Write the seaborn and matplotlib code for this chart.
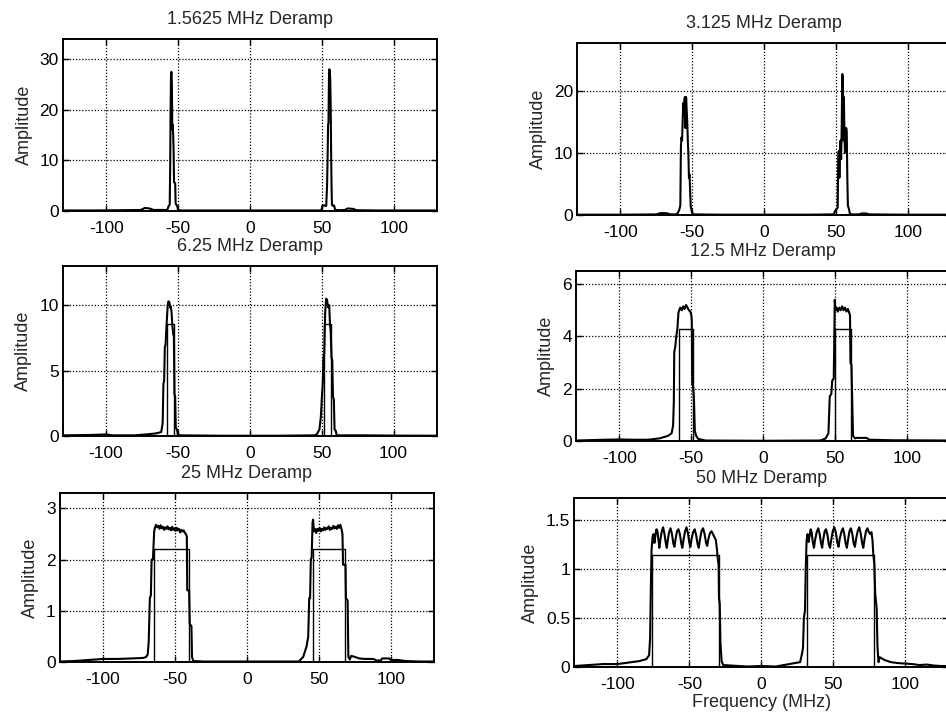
import matplotlib
matplotlib.use("Agg")
import matplotlib.pyplot as plt
from matplotlib.ticker import FuncFormatter
import seaborn as sns

# panel titles (left column top->bottom, then right column)
titles = ["1.5625 MHz Deramp", "3.125 MHz Deramp", "6.25 MHz Deramp",
          "12.5 MHz Deramp", "25 MHz Deramp", "50 MHz Deramp"]

f_1 = [-130, -110, -90, -76, -73, -70, -67, -60, -57.5, -56.5, -55.8, -55.5, -55.2, -54.9, -54.6,
       -54.3, -54.0, -53.7, -53.4, -53.1, -52.8, -52.5, -52.0, -51.7, -51.2, -50.6, -50.0, -48,
       -20, 0, 20, 48, 49.8, 50.3, 51.5, 53.0, 53.6, 54.0, 54.3, 54.6, 54.9, 55.2, 55.5, 55.8,
       56.1, 56.4, 56.7, 57.0, 57.8, 58.5, 59.2, 62, 66, 68, 72, 74, 90, 110, 130]
a_1 = [0.1, 0.1, 0.15, 0.2, 0.6, 0.5, 0.2, 0.2, 0.2, 1.0, 1.2, 8, 20, 27, 27.5,
       25, 16, 17, 15, 12, 5.7, 5.6, 5.5, 1.5, 1.2, 1.0, 0.2, 0.1,
       0.1, 0.1, 0.1, 0.1, 0.2, 1.0, 1.1, 1.0, 5, 11, 17, 17.5, 26, 28, 27.5, 26,
       21, 12, 5, 1.2, 1.0, 1.1, 0.2, 0.15, 0.2, 0.5, 0.4, 0.15, 0.1, 0.1, 0.1]

f_2 = [-130, -100, -75, -72, -68, -65, -61, -60, -59, -58.2, -57.8, -57.4, -57.0, -56.6, -56.2,
       -55.8, -55.4, -55.0, -54.6, -54.2, -53.8, -53.4, -53.0, -52.6, -52.2, -51.8, -51.4, -51.0,
       -50.2, -49.5, -30, 0, 30, 48.5, 49.3, 50.5, 51.2, 51.6, 52.0, 52.4, 52.8, 53.2, 53.6,
       54.0, 54.4, 54.8, 55.2, 55.5, 55.9, 56.3, 56.7, 57.1, 57.5, 57.9, 58.3, 59.0, 59.7, 61,
       66, 68, 71, 73, 100, 130]
a_2 = [0.05, 0.05, 0.1, 0.3, 0.3, 0.1, 0.1, 0.3, 0.8, 1.5, 11, 12.5, 12, 15, 18,
       16, 18.5, 19, 14, 19, 17, 15, 12, 10, 6, 6.5, 4, 1.5,
       0.5, 0.1, 0.05, 0.05, 0.05, 0.1, 0.6, 1.0, 1.2, 9, 10.3, 6, 10, 12, 9,
       14, 22.7, 22, 12, 19, 13, 10, 13, 14, 13.5, 6, 1.5, 1.0, 0.2, 0.1,
       0.1, 0.25, 0.25, 0.1, 0.05, 0.05]

f_3 = [-130, -110, -100, -95, -80, -72, -65, -61.5, -60.5, -60.0, -59.5, -59.0, -58.5, -57.8,
       -57.0, -56.5, -55.8, -55.2, -54.8, -54.3, -53.8, -53.2, -52.7, -52.3, -51.8, -51.4,
       -50.5, -50.0, -48, -20, 0, 20, 45, 46.5, 48.5, 49.5, 50.2, 50.8, 51.3, 51.8, 52.5, 53.2,
       53.8, 54.3, 54.8, 55.3, 55.8, 56.3, 56.9, 57.4, 57.9, 58.5, 59.0, 59.8, 60.5, 65, 80,
       100, 130]
a_3 = [0.05, 0.08, 0.12, 0.05, 0.05, 0.12, 0.2, 0.3, 1.0, 4, 4.2, 6.8, 7, 8.5,
       10, 10.3, 10.2, 9.8, 9.9, 9.4, 8.5, 7.8, 7.6, 3.2, 3.0, 0.6,
       0.5, 0.1, 0.05, 0.02, 0.02, 0.02, 0.05, 0.1, 0.5, 1.5, 3, 4, 6, 6.3, 9.5, 10.5,
       10.4, 10, 9.8, 10, 8.6, 8.0, 6, 5.8, 3, 2.8, 0.5, 0.4, 0.05, 0.05, 0.05,
       0.03, 0.02]

f_4 = [-130, -110, -100, -90, -80, -72, -66, -63.5, -62.5, -62.0, -61.7, -61.0, -60.3, -59.5,
       -58.8, -58.3, -57.5, -56.5, -55.5, -54.5, -53.5, -52.5, -51.5, -50.5, -49.8, -49.5,
       -49.2, -48.6, -48.0, -47.4, -46.5, -45, -40, 0, 40, 43.6, 45.5, 46.4, 47.5, 48.1, 49.2,
       49.9, 50.4, 51.2, 52.0, 53.0, 54.0, 55.0, 56.0, 57.0, 58.0, 59.0, 60.0, 60.5, 60.8,
       61.5, 62.6, 64, 65, 72, 74, 90, 130]
a_4 = [0.02, 0.05, 0.06, 0.05, 0.05, 0.1, 0.2, 0.3, 0.6, 1.5, 3.4, 3.6, 4.0, 4.3,
       4.9, 5.0, 5.1, 5.0, 5.15, 5.05, 5.2, 5.1, 5.0, 4.95, 4.8, 4.6,
       2.2, 2.1, 1.6, 0.4, 0.2, 0.08, 0.02, 0.01, 0.02, 0.1, 0.3, 1.7, 1.8, 2.3, 2.4,
       5.4, 5.0, 5.1, 4.95, 5.1, 5.0, 5.15, 5.0, 5.1, 4.95, 5.05, 4.9, 4.8, 3.0,
       2.9, 0.2, 0.1, 0.12, 0.12, 0.05, 0.03, 0.02]

f_5 = [-130, -120, -110, -100, -90, -80, -72, -70, -69, -68.3, -67.5, -66.8, -66.3, -65.4,
       -64.5, -64.0, -63.2, -62.4, -61.6, -60.8, -60.0, -59.2, -58.4, -57.6, -56.8, -56.0,
       -55.2, -54.4, -53.6, -52.8, -52.0, -51.2, -50.4, -49.6, -48.8, -48.0, -47.2, -46.4,
       -45.6, -44.8, -44.0, -43.2, -42.4, -41.8, -41.5, -40.2, -39.8, -38.6, -38.2, -37.3,
       -30, 0, 30, 36, 39.1, 41.4, 42.6, 43.3, 43.9, 44.4, 45.0, 45.6, 46.0, 46.5, 47.3, 48.1,
       48.9, 49.7, 50.5, 51.3, 52.1, 52.9, 53.7, 54.5, 55.3, 56.1, 56.9, 57.7, 58.5, 59.3,
       60.1, 60.9, 61.7, 62.5, 63.3, 64.1, 64.9, 65.7, 66.4, 66.8, 68.5, 68.8, 70.0, 70.5,
       71.5, 72.5, 75, 78, 82, 88, 90, 93, 94, 99, 100, 105, 110, 120, 130]
a_5 = [0.01, 0.02, 0.04, 0.06, 0.06, 0.07, 0.08, 0.1, 0.15, 0.4, 1.25, 1.3, 2.0, 2.0,
       2.55, 2.62, 2.68, 2.63, 2.66, 2.6, 2.67, 2.61, 2.64, 2.58, 2.63, 2.6,
       2.65, 2.59, 2.62, 2.57, 2.64, 2.58, 2.61, 2.56, 2.62, 2.57, 2.6, 2.53,
       2.58, 2.55, 2.57, 2.52, 2.5, 2.45, 1.4, 1.4, 0.75, 0.7, 0.1, 0.02,
       0.01, 0.01, 0.01, 0.01, 0.1, 0.3, 0.5, 1.25, 1.25, 2.0, 2.05, 2.72, 2.78, 2.55, 2.6, 2.52,
       2.6, 2.56, 2.62, 2.55, 2.6, 2.57, 2.63, 2.58, 2.62, 2.6, 2.65, 2.58, 2.62, 2.6,
       2.66, 2.61, 2.64, 2.6, 2.67, 2.62, 2.68, 2.6, 2.5, 1.9, 1.9, 1.25, 1.2, 0.1,
       0.05, 0.12, 0.1, 0.07, 0.06, 0.06, 0.03, 0.03, 0.07, 0.07, 0.04, 0.04, 0.02, 0.01, 0.01]

f_6 = [-130, -120, -110, -100, -95, -90, -85, -80, -78, -77.3, -76.8, -76.3, -75.6, -74.9,
       -74.3, -73.6, -72.9, -72.2, -71.5, -70.9, -70.2, -69.3, -68.3, -67.4, -66.4, -65.7,
       -65.0, -64.1, -63.1, -62.1, -61.1, -60.4, -59.6, -58.6, -57.6, -56.6, -55.6, -54.9,
       -54.1, -53.0, -52.0, -51.0, -50.0, -49.3, -48.5, -47.4, -46.3, -45.3, -44.3, -43.5,
       -42.7, -41.6, -40.5, -39.4, -38.4, -37.6, -36.8, -35.7, -34.6, -33.6, -32.6, -31.6,
       -30.8, -30.2, -29.7, -29.4, -28.9, -28.4, -27.6, -26.5, -10, 0, 10, 27, 28.5, 29.0,
       29.6, 30.4, 30.9, 31.5, 32.2, 32.9, 33.6, 34.3, 35.0, 35.8, 36.6, 37.4, 38.5, 39.6,
       40.6, 41.5, 42.3, 43.1, 44.1, 45.0, 46.0, 47.0, 47.8, 48.6, 49.7, 50.8, 51.9, 52.9,
       53.7, 54.5, 55.6, 56.7, 57.7, 58.7, 59.5, 60.3, 61.3, 62.3, 63.3, 64.3, 65.1, 65.9,
       67.0, 68.1, 69.1, 70.1, 70.9, 71.7, 72.8, 73.8, 74.8, 75.8, 76.6, 77.3, 77.9, 78.6,
       79.2, 80.2, 80.8, 81.5, 82.3, 83.5, 86, 90, 95, 100, 105, 110, 115, 120, 125, 130]
a_6 = [0.01, 0.02, 0.03, 0.03, 0.04, 0.05, 0.06, 0.08, 0.12, 0.3, 0.8, 1.2, 1.33, 1.36,
       1.27, 1.35, 1.41, 1.39, 1.3, 1.22, 1.3, 1.38, 1.43, 1.37, 1.27, 1.22,
       1.3, 1.38, 1.42, 1.36, 1.26, 1.23, 1.31, 1.39, 1.41, 1.36, 1.26, 1.22,
       1.3, 1.39, 1.43, 1.37, 1.27, 1.23, 1.31, 1.38, 1.41, 1.35, 1.26, 1.22,
       1.3, 1.39, 1.42, 1.36, 1.27, 1.24, 1.31, 1.37, 1.39, 1.36, 1.33, 1.3,
       1.2, 1.1, 1.05, 0.7, 0.65, 0.25, 0.06, 0.02, 0.005, 0.01, 0.005, 0.05, 0.15, 0.2,
       0.5, 0.58, 1.0, 1.3, 1.36, 1.28, 1.34, 1.41, 1.38, 1.28, 1.22, 1.3, 1.38, 1.42,
       1.36, 1.27, 1.22, 1.31, 1.39, 1.41, 1.35, 1.25, 1.22, 1.3, 1.39, 1.43, 1.37, 1.27,
       1.23, 1.31, 1.38, 1.42, 1.36, 1.26, 1.22, 1.3, 1.39, 1.42, 1.36, 1.26, 1.23, 1.31,
       1.39, 1.43, 1.37, 1.27, 1.22, 1.3, 1.39, 1.42, 1.38, 1.36, 1.38, 1.3, 1.15, 1.05,
       0.75, 0.6, 0.2, 0.05, 0.1, 0.09, 0.07, 0.05, 0.04, 0.035, 0.03, 0.02, 0.025, 0.015, 0.01, 0.01]

# ideal (rectangular) spectra: band edges and height
rect_edges = [[], [], [(-57.5, -52.3), (51.8, 56.5)], [(-58.3, -48.7), (50.0, 61.0)],
              [(-64.3, -40.0), (45.6, 68.0)], [(-76.0, -29.7), (31.7, 78.3)]]
rect_height = [0, 0, 8.6, 4.3, 2.2, 1.15]

y_top = [34, 27.7, 13, 6.5, 3.3, 1.73]
y_ticks = [[0, 10, 20, 30], [0, 10, 20], [0, 5, 10], [0, 2, 4, 6], [0, 1, 2, 3], [0, 0.5, 1, 1.5]]
x_ticks = [-100, -50, 0, 50, 100]

freqs = [f_1, f_2, f_3, f_4, f_5, f_6]
amps = [a_1, a_2, a_3, a_4, a_5, a_6]

sns.set_style("ticks")
plt.rcParams["font.family"] = ["Liberation Sans", "DejaVu Sans"]
plt.rcParams["axes.unicode_minus"] = False

fig = plt.figure(figsize=(9.46, 7.21), dpi=100)

# axes boxes in figure fractions (1.5625, 3.125, 6.25, 12.5, 25, 50)
boxes = [(0.0666, 0.7074, 0.3953, 0.2386), (0.6100, 0.7018, 0.3953, 0.2386),
         (0.0663, 0.3953, 0.3953, 0.2358), (0.6089, 0.3883, 0.3953, 0.2358),
         (0.0634, 0.0818, 0.3953, 0.2344), (0.6071, 0.0749, 0.3953, 0.2344)]

for i in range(6):
    ax = fig.add_axes(boxes[i])
    sns.lineplot(x=freqs[i], y=amps[i], ax=ax, color="black", lw=1.5,
                 sort=False, estimator=None)
    for lo, hi in rect_edges[i]:
        h = rect_height[i]
        sns.lineplot(x=[lo, lo, hi, hi], y=[0, h, h, 0], ax=ax, color="black",
                     lw=1.0, sort=False, estimator=None)
    ax.set_xlim(-130, 130)
    ax.set_ylim(0, y_top[i])
    ax.set_xticks(x_ticks)
    ax.set_yticks(y_ticks[i])
    ax.yaxis.set_major_formatter(FuncFormatter(lambda v, p: "%g" % v))
    ax.grid(True, color="black", linestyle=(0, (1, 1.5)), linewidth=0.9)
    ax.tick_params(direction="in", top=True, right=True, length=4, width=1,
                   labelsize=12.5, colors="black")
    ax.tick_params(axis="x", pad=7)
    ax.tick_params(axis="y", pad=3)
    for s in ax.spines.values():
        s.set_color("black")
        s.set_linewidth(1.4)
    ax.set_title(titles[i], fontsize=13, pad=11)
    ax.set_ylabel("Amplitude", fontsize=13, labelpad=5)

ax.set_xlabel("Frequency (MHz)", fontsize=13, labelpad=2)

fig.savefig("out.png", dpi=100)
